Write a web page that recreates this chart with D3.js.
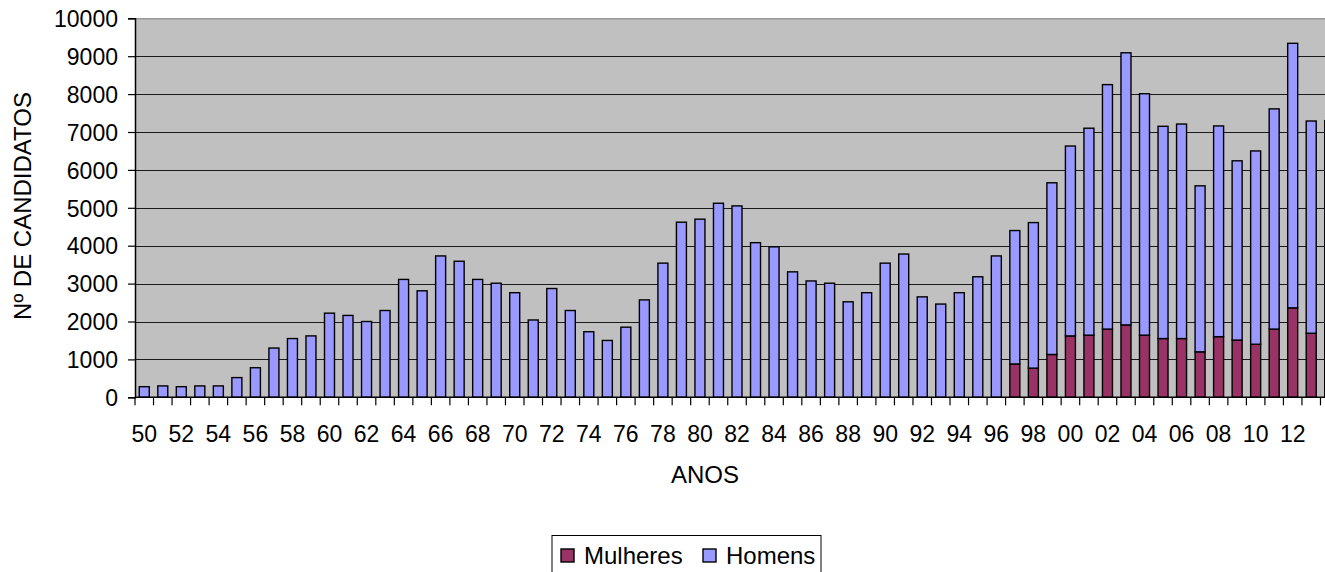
<!DOCTYPE html>
<html>
<head>
<meta charset="utf-8">
<script src="https://cdn.jsdelivr.net/npm/d3@7"></script>
<style>
  body { margin: 0; background: #fff; overflow: hidden; }
  text { font-family: "Liberation Sans", Arial, sans-serif; fill: #000; }
</style>
</head>
<body>
<div id="chart"></div>
<script>
// anos 1950 - 2014
const anos = d3.range(1950, 2015);
const mulheres = [
  0, 0, 0, 0, 0, 0, 0, 0, 0, 0,
  0, 0, 0, 0, 0, 0, 0, 0, 0, 0,
  0, 0, 0, 0, 0, 0, 0, 0, 0, 0,
  0, 0, 0, 0, 0, 0, 0, 0, 0, 0,
  0, 0, 0, 0, 0, 0, 0, 880, 770, 1130,
  1620, 1640, 1800, 1910, 1640, 1550, 1550, 1200, 1600, 1510,
  1400, 1800, 2360, 1690, 1700
];
const homens = [
  280, 300, 280, 300, 300, 520, 780, 1300, 1550, 1620,
  2220, 2160, 2000, 2290, 3110, 2810, 3730, 3590, 3110, 3010,
  2760, 2040, 2870, 2290, 1730, 1500, 1850, 2570, 3540, 4620,
  4700, 5120, 5050, 4080, 3970, 3310, 3070, 3010, 2520, 2760,
  3540, 3780, 2650, 2460, 2760, 3180, 3730, 3520, 3840, 4530,
  5010, 5460, 6450, 7180, 6370, 5600, 5660, 4380, 5560, 4730,
  5100, 5810, 6980, 5600, 5600
];
const series = ['Mulheres', 'Homens'];
const cores = {Mulheres: '#993366', Homens: '#9999ff'};
const yTicks = d3.range(0, 10001, 1000);
// labels shown under the axis (every second year, up to 12)
const xLabels = d3.range(1950, 2013, 2);

const w = 1325, h = 572;
const plotL = 135, plotR = 1339, plotT = 18.3, plotB = 397.3;

let svg = d3.select('#chart').append('svg').attr('width', w).attr('height', h);

let x = d3.scaleBand().domain(anos).range([plotL, plotR])
    .paddingInner(0.46).paddingOuter(0.23);
let y = d3.scaleLinear().domain([0, 10000]).range([plotB, plotT]);

let rows = anos.map((a, i) => ({ano: a, Mulheres: mulheres[i], Homens: homens[i]}));
let stacked = d3.stack().keys(series)(rows);

// plot area
svg.append('rect')
    .attr('x', plotL).attr('y', plotT)
    .attr('width', plotR - plotL + 20).attr('height', plotB - plotT)
    .attr('fill', '#c0c0c0');
svg.append('line')
    .attr('x1', plotL).attr('x2', w).attr('y1', plotT + 0.5).attr('y2', plotT + 0.5)
    .attr('stroke', '#808080').attr('stroke-width', 1);

// gridlines
svg.append('g')
    .selectAll('line').data(yTicks.slice(1, -1)).join('line')
    .attr('x1', plotL).attr('x2', w)
    .attr('y1', d => Math.round(y(d)) + 0.5).attr('y2', d => Math.round(y(d)) + 0.5)
    .attr('stroke', '#1a1a1a').attr('stroke-width', 1.2);

// bars
svg.append('g')
    .selectAll('g').data(stacked).join('g')
    .attr('fill', d => cores[d.key])
    .selectAll('rect').data(d => d.filter(p => p[1] > p[0])).join('rect')
    .attr('x', d => x(d.data.ano))
    .attr('width', x.bandwidth())
    .attr('y', d => y(d[1]))
    .attr('height', d => y(d[0]) - y(d[1]))
    .attr('stroke', '#000').attr('stroke-width', 1.4);

// y axis
let yAxis = svg.append('g')
    .attr('transform', `translate(${plotL},0)`)
    .call(d3.axisLeft(y).tickValues(yTicks).tickSize(7).tickPadding(10).tickFormat(d3.format('d')));
yAxis.select('.domain').attr('stroke', '#000').attr('stroke-width', 1.5);
yAxis.selectAll('.tick line').attr('stroke', '#000').attr('stroke-width', 1.2);
yAxis.selectAll('text').attr('font-size', 23).attr('dy', '0.36em')
    .style('font-family', '"Liberation Sans", Arial, sans-serif').attr('fill', '#000');

// x axis: labels every second year, ticks on category boundaries
let xAxis = svg.append('g')
    .attr('transform', `translate(0,${plotB})`)
    .call(d3.axisBottom(x).tickValues(xLabels)
        .tickSize(0).tickPadding(28)
        .tickFormat(a => String(a % 100).padStart(2, '0')));
xAxis.select('.domain').remove();
xAxis.selectAll('text').attr('font-size', 23)
    .style('font-family', '"Liberation Sans", Arial, sans-serif').attr('fill', '#000');

svg.append('line')
    .attr('x1', plotL).attr('x2', w).attr('y1', plotB).attr('y2', plotB)
    .attr('stroke', '#000').attr('stroke-width', 1.5);
let half = (x.step() - x.bandwidth()) / 2;
svg.append('g')
    .selectAll('line').data(anos).join('line')
    .attr('x1', a => x(a) - half).attr('x2', a => x(a) - half)
    .attr('y1', plotB).attr('y2', plotB + 8)
    .attr('stroke', '#000').attr('stroke-width', 1.2);

// titles
svg.append('text')
    .attr('x', 705).attr('y', 483)
    .attr('text-anchor', 'middle').attr('font-size', 24)
    .text('ANOS');
svg.append('text')
    .attr('transform', 'translate(31,206) rotate(-90)')
    .attr('text-anchor', 'middle').attr('font-size', 24)
    .text('Nº DE CANDIDATOS');

// legend
let legend = svg.append('g');
legend.append('rect')
    .attr('x', 552).attr('y', 535.5).attr('width', 269).attr('height', 60)
    .attr('fill', '#fff').attr('stroke', '#000').attr('stroke-width', 1);
let lx = {Mulheres: 561, Homens: 703};
series.forEach(s => {
    legend.append('rect')
        .attr('x', lx[s]).attr('y', 549).attr('width', 13).attr('height', 13)
        .attr('fill', cores[s]).attr('stroke', '#000').attr('stroke-width', 1.4);
    legend.append('text')
        .attr('x', lx[s] + 23).attr('y', 564).attr('font-size', 24)
        .text(s);
});
</script>
</body>
</html>
